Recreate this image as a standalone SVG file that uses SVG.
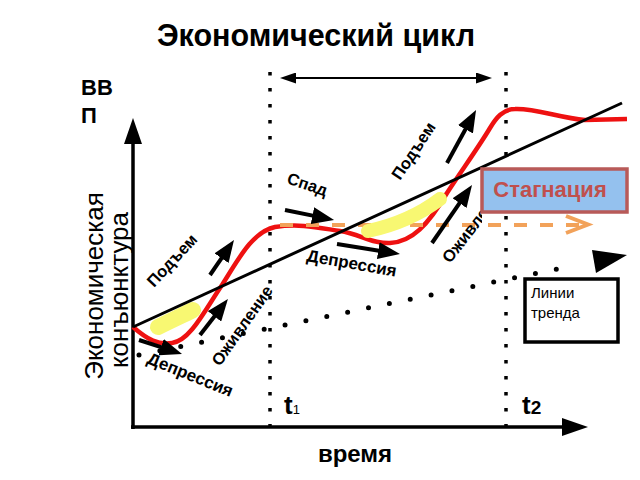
<svg xmlns="http://www.w3.org/2000/svg" width="640" height="480" viewBox="0 0 640 480">
<defs>
<style>
text{font-family:"Liberation Sans",Arial,sans-serif;fill:#000;}
.b{font-weight:bold;}
.lbl{font-size:16.5px;font-weight:bold;}
.arr{stroke:#000;stroke-width:4;fill:none;marker-end:url(#ah);}
.vdot{stroke:#000;stroke-width:3.5;stroke-dasharray:3.5 12.5;}
</style>
<marker id="ah" markerUnits="userSpaceOnUse" markerWidth="22" markerHeight="17" viewBox="0 0 22 17" refX="4" refY="8.5" orient="auto"><path d="M0,0 L22,8.5 L0,17 z" fill="#000"/></marker>
<marker id="dh" markerUnits="userSpaceOnUse" markerWidth="16" markerHeight="11" viewBox="0 0 16 11" refX="2" refY="5.5" orient="auto-start-reverse"><path d="M0,0 L16,5.5 L0,11 z" fill="#000"/></marker>
<clipPath id="clipOz"><rect x="0" y="0" width="482" height="480"/></clipPath>
</defs>
<rect width="640" height="480" fill="#fff"/>

<text id="title" x="316" y="46" text-anchor="middle" font-size="30.5" class="b">Экономический цикл</text>

<g id="axes">
<line x1="133" y1="429" x2="133" y2="140" stroke="#000" stroke-width="3.5"/>
<polygon points="124,144 133,118 142,144" fill="#000"/>
<line x1="131" y1="427" x2="565" y2="427" stroke="#000" stroke-width="3.5"/>
<polygon points="562,418 588,427 562,436" fill="#000"/>
<text x="81" y="95" font-size="22" class="b">ВВ</text>
<text x="81" y="123" font-size="22" class="b">П</text>
<text transform="translate(103,286) rotate(-90)" text-anchor="middle" font-size="26">Экономическая</text>
<text transform="translate(128,290) rotate(-90)" text-anchor="middle" font-size="26">конъюнктура</text>
<text x="355" y="462" text-anchor="middle" font-size="24" class="b">время</text>
</g>

<g id="time-markers">
<line class="vdot" x1="270" y1="72" x2="270" y2="428"/>
<line class="vdot" x1="506" y1="72" x2="506" y2="428"/>
<text x="284" y="414" font-size="26" class="b">t<tspan font-size="13" font-weight="normal">1</tspan></text>
<text x="522" y="414" font-size="26" class="b">t<tspan font-size="19">2</tspan></text>
<line x1="294" y1="78" x2="478" y2="78" stroke="#000" stroke-width="2" marker-start="url(#dh)" marker-end="url(#dh)"/>
</g>

<g id="connectors">
<line id="dotted-trend" x1="139" y1="355" x2="577" y2="265" stroke="#000" stroke-width="5" stroke-linecap="round" stroke-dasharray="0 21.3"/>
<polygon points="592,250 627,255 596,273" fill="#000"/>
<path id="cycle" d="M133,327 C148,340 158,345 172,343 C190,341 205,310 222,285 C238,260 252,232 275,227 C300,223 320,228 340,231 C360,234 372,244 390,243 C412,242 428,225 447,193 C462,170 480,145 490,128 C496,118 503,109 515,109 C535,108 560,118 585,120 L627,119" fill="none" stroke="#ee1111" stroke-width="4.5"/>
<line x1="280" y1="225" x2="580" y2="225" stroke="#f2a25a" stroke-width="4" stroke-dasharray="13 13"/>
<polyline points="566,216 588,224.5 566,233" fill="none" stroke="#f2a25a" stroke-width="4"/>
<path d="M158,327 C170,321 183,315 193,310" fill="none" stroke="#f8f872" stroke-width="16" stroke-linecap="round"/>
<path d="M368,231 Q410,222 440,199" fill="none" stroke="#f8f872" stroke-width="14" stroke-linecap="round"/>
<line id="trend" x1="133" y1="327" x2="622" y2="103" stroke="#000" stroke-width="3"/>
<line class="arr" x1="139" y1="340" x2="164.9" y2="348.4"/>
<line class="arr" x1="200" y1="335" x2="216.9" y2="313.2"/>
<line class="arr" x1="210" y1="275" x2="223.8" y2="254.9"/>
<line class="arr" x1="285" y1="210" x2="316.4" y2="216.4"/>
<line class="arr" x1="337" y1="244" x2="382.2" y2="251.2"/>
<line class="arr" x1="447" y1="163" x2="467.4" y2="125.8"/>
<line class="arr" x1="432" y1="243" x2="461.8" y2="199.8"/>
</g>

<g id="phase-labels">
<text class="lbl" style="font-size:17px" transform="translate(146,363) rotate(22)">Депрессия</text>
<text class="lbl" transform="translate(220,367) rotate(-55)">Оживление</text>
<text class="lbl" transform="translate(154,288) rotate(-47)">Подъем</text>
<text class="lbl" transform="translate(286,183) rotate(19)">Спад</text>
<text class="lbl" style="font-size:17px" transform="translate(306,261) rotate(10)">Депрессия</text>
<text class="lbl" transform="translate(400,181) rotate(-56)">Подъем</text>
<g clip-path="url(#clipOz)"><text class="lbl" transform="translate(450,264) rotate(-52)">Оживление</text></g>
</g>

<g id="stagnation">
<rect x="482" y="169" width="145" height="43" fill="#94c1ee" stroke="#b85a58" stroke-width="3.5"/>
<text x="550" y="197" text-anchor="middle" font-size="22" class="b" style="fill:#c0504d">Стагнация</text>
</g>

<g id="trend-legend">
<rect x="525" y="279" width="93" height="63" fill="#fff" stroke="#000" stroke-width="3.5"/>
<text x="531" y="298" font-size="15">Линии</text>
<text x="531" y="318" font-size="15">тренда</text>
</g>
</svg>
